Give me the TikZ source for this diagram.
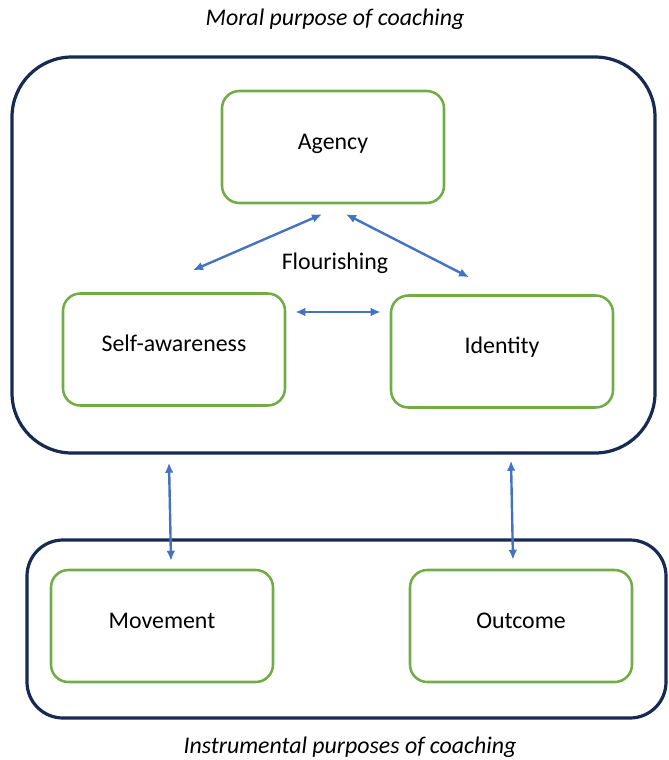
\documentclass[tikz,border=0pt]{standalone}
\usepackage{fontspec}
\setmainfont{Carlito}
\usepackage{tikz}
\usetikzlibrary{arrows.meta,positioning,calc}
\definecolor{frame}{HTML}{172A52}
\definecolor{leaf}{HTML}{70AD47}
\definecolor{link}{HTML}{4472C4}

\tikzset{
  outer/.style={draw=frame, line width=2.4pt},
  inner/.style={draw=leaf, line width=1.9pt, rounded corners=13pt, minimum width=166.5pt, minimum height=84pt, text height=13pt, text depth=10pt},
  twoway/.style={{Latex[length=7.5pt,width=6.5pt]}-{Latex[length=7.5pt,width=6.5pt]}, link, line width=1.8pt},
}

\begin{document}
\begin{tikzpicture}[x=0.75pt, y=-0.75pt, font=\fontsize{17.9}{21}\selectfont]
        \useasboundingbox (0,0) rectangle (668,760);

        % Outer frames
        \draw[outer, rounded corners=45pt] (12,57) rectangle (655,453);
        \draw[outer, rounded corners=27pt] (27,540) rectangle (666,718);

        % Titles
        \node (moral) at (335,19) {\textit{Moral purpose of coaching}};
        \node (instr) at (350,747) {\textit{Instrumental purposes of coaching}};

        % Inner boxes
        \node[inner] (agency) at (333,147) {Agency};
        \node[inner] (selfaw) at (174,349.5) {Self-awareness};
        \node[inner] (identity) at (502,351.5) {Identity};
        \node[inner] (movement) at (162,626) {Movement};
        \node[inner] (outcome) at (521,626) {Outcome};

        \node (flour) at (335,263) {Flourishing};

        % Connections
        \draw[twoway] ($(agency.south)+(-11,10)$) -- ($(selfaw.north)+(19,-22)$);
        \draw[twoway] ($(agency.south)+(13,10)$) -- ($(identity.north)+(-33,-17)$);
        \draw[twoway] ($(selfaw.east)+(9,-37.5)$) -- ($(identity.west)+(-9,-39.5)$);
        \draw[twoway] ($(selfaw.south)+(-5,56)$) -- ($(movement.north)+(9,-8)$);
        \draw[twoway] ($(identity.south)+(9,52)$) -- ($(outcome.north)+(-8,-9)$);
    \end{tikzpicture}
\end{document}
